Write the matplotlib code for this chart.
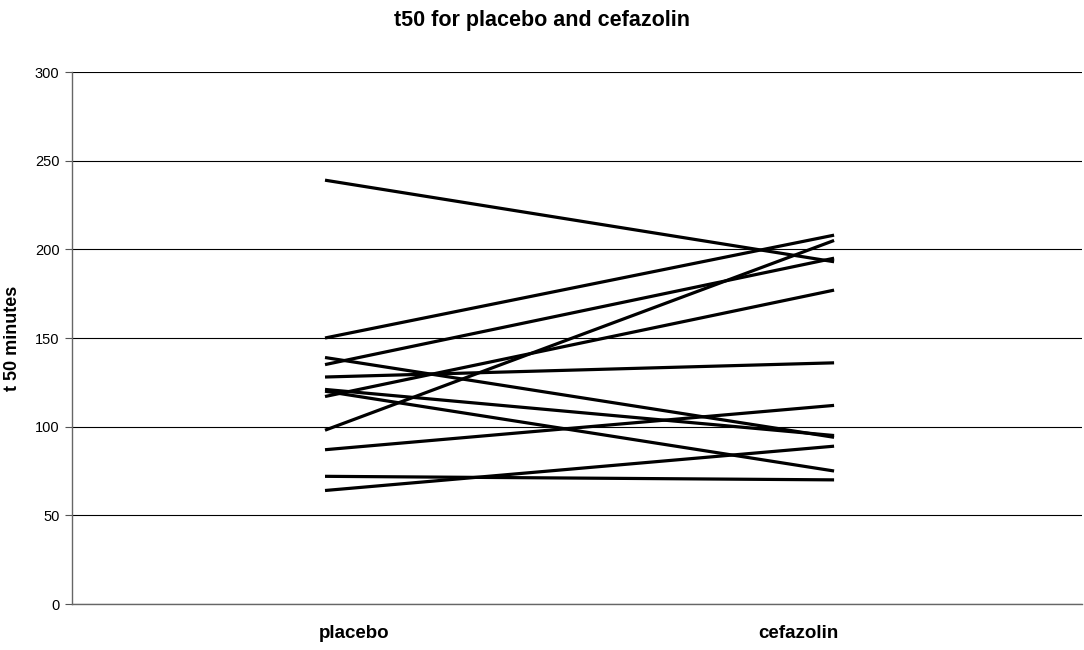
import matplotlib.pyplot as plt

# t50 (minutes) per subject, placebo vs cefazolin
categories = ["placebo", "cefazolin"]
placebo = [239, 150, 139, 135, 128, 121, 120, 117, 98, 87, 72, 64]
cefazolin = [193, 208, 94, 195, 136, 95, 75, 177, 205, 112, 70, 89]
yticks = [0, 50, 100, 150, 200, 250, 300]

plt.rcParams["font.family"] = ["Liberation Sans", "DejaVu Sans"]

fig = plt.figure(figsize=(10.84, 6.5), dpi=100)
ax = fig.add_axes([72 / 1084, 46 / 650, 1010 / 1084, 532 / 650])

for p, c in zip(placebo, cefazolin):
    ax.plot([0, 1], [p, c], color="black", linewidth=2.3, solid_capstyle="butt")

ax.set_xlim(-0.497, 1.487)
ax.set_ylim(0, 300)
ax.set_yticks(yticks)
ax.yaxis.grid(True, color="black", linewidth=0.8)
ax.set_axisbelow(True)
ax.tick_params(axis="y", labelsize=10.5, length=5, color="#555555", pad=4)

# category labels sit a little inside the line ends
ax.set_xticks([0.058, 0.93])
ax.set_xticklabels(categories, fontsize=13.5, fontweight="bold")
ax.tick_params(axis="x", length=0, pad=15)

for side in ["top", "right"]:
    ax.spines[side].set_visible(False)
for side in ["left", "bottom"]:
    ax.spines[side].set_color("#666666")
    ax.spines[side].set_linewidth(1)

ax.set_ylabel("t 50 minutes", fontsize=13, fontweight="bold", labelpad=10)
fig.suptitle("t50 for placebo and cefazolin", fontsize=15.5, fontweight="bold",
             x=0.5, y=1 - 10 / 650, va="top")

fig.savefig("out.png", dpi=100)
